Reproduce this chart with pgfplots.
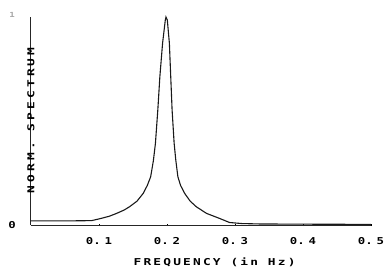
\documentclass[border=0pt]{standalone}
\usepackage{pgfplots}
\pgfplotsset{compat=1.18}
\usepackage{fontspec}
\newfontfamily\xlabfont[FakeStretch=1.35,LetterSpace=23]{DejaVu Sans Mono Bold}
\newfontfamily\ylabfont[FakeStretch=1.35,LetterSpace=33]{DejaVu Sans Mono Bold}
\newfontfamily\tickfont[FakeStretch=1.3]{DejaVu Sans Mono Bold}
\begin{document}
\begin{tikzpicture}[x=1pt,y=1pt]
\path[use as bounding box] (-31,-44) rectangle (353,225);
\begin{axis}[
  at={(0,0)}, anchor=origin,
  scale only axis, width=340pt, height=208pt,
  xmin=0, xmax=0.5, ymin=0, ymax=1,
  axis x line=bottom, axis y line=left,
  axis line style={-, line width=1pt, black!85},
  xtick={0.1,0.2,0.3,0.4,0.5},
  xticklabels={0.\kern4pt1,0.\kern4pt2,0.\kern4pt3,0.\kern4pt4,0.\kern4pt5},
  ytick={0,1}, yticklabels={0,{\raisebox{5pt}{\color{black!35}\scriptsize 1}}},
  major tick length=2pt,
  tick style={black, line width=0.8pt},
  ytick style={draw=none},
  xticklabel style={font=\fontsize{9.5}{10}\tickfont, anchor=center, inner sep=0pt, yshift=-15pt},
  yticklabel style={font=\fontsize{9.5}{10}\tickfont, anchor=center, inner sep=0pt, xshift=-18pt},
  xlabel={FREQUENCY (in Hz)},
  ylabel={NORM. SPECTRUM},
  xlabel style={font=\fontsize{9.5}{10}\xlabfont, at={(axis description cs:0.54,0)}, anchor=center, inner sep=0pt, yshift=-37pt},
  ylabel style={font=\fontsize{9.5}{10}\ylabfont, at={(axis description cs:0,0.59)}, anchor=center, inner sep=0pt, xshift=-18pt},
  clip=false,
]
\addplot[black!90, line width=1.1pt] coordinates {
(0.0,0.020)(0.06,0.020)(0.089,0.021)(0.101,0.030)(0.115,0.042)(0.126,0.056)(0.137,0.072)(0.145,0.088)(0.156,0.115)(0.165,0.152)(0.171,0.19)(0.176,0.232)(0.180,0.31)(0.183,0.393)(0.1865,0.553)(0.1895,0.713)(0.1935,0.874)(0.1975,0.985)(0.1985,1.0)(0.2005,0.985)(0.2035,0.874)(0.2055,0.713)(0.2075,0.553)(0.2105,0.393)(0.213,0.31)(0.216,0.232)(0.220,0.19)(0.226,0.152)(0.234,0.115)(0.243,0.088)(0.258,0.056)(0.277,0.032)(0.292,0.012)(0.31,0.007)(0.336,0.005)(0.40,0.004)(0.5,0.003)
};
\end{axis}
\end{tikzpicture}
\end{document}
